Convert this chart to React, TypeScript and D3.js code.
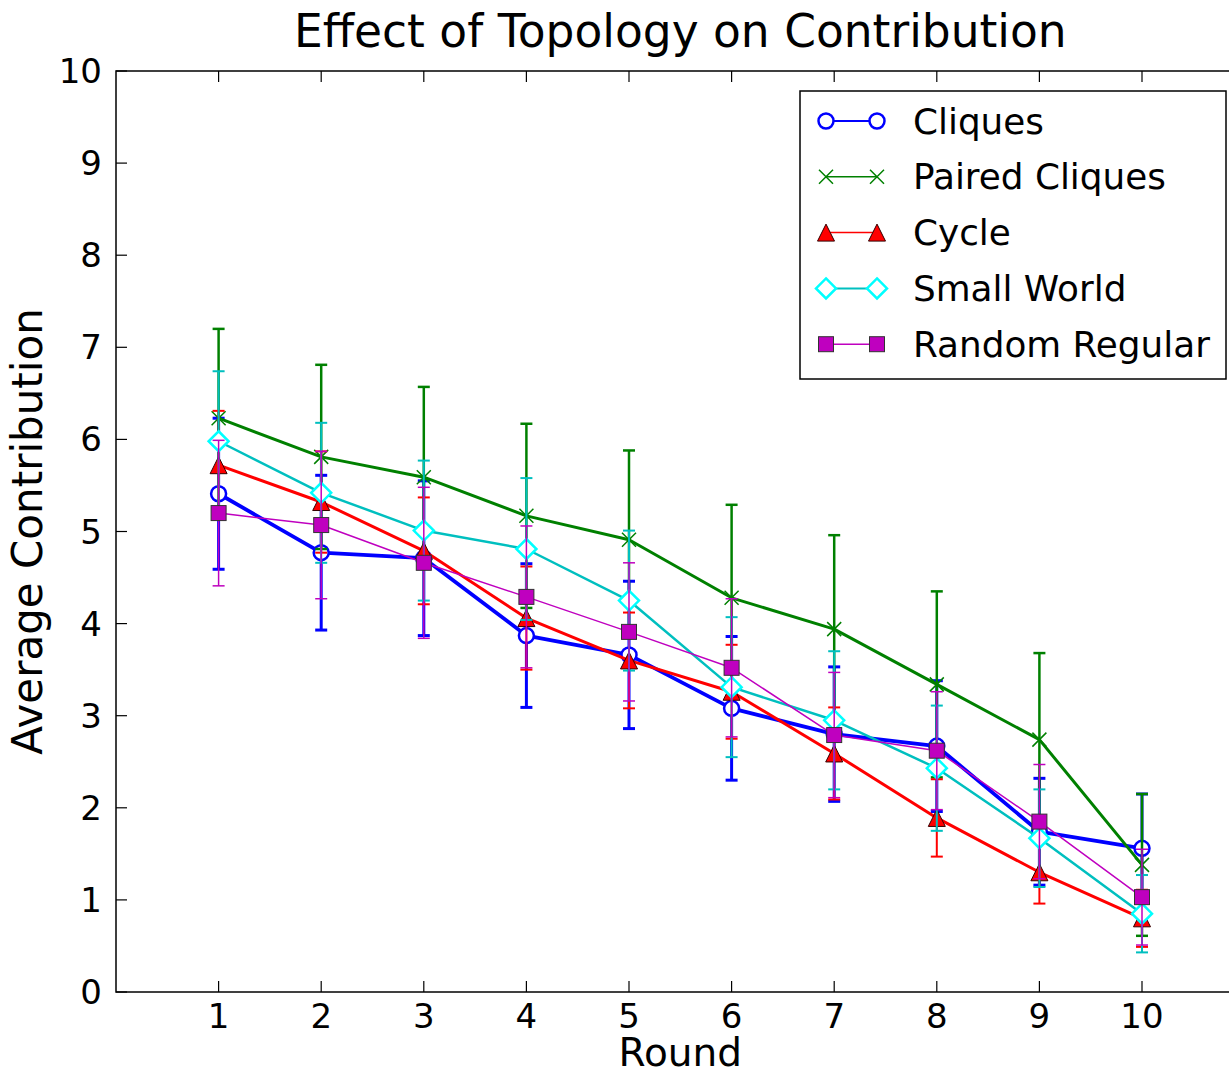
import React from "react";
import * as d3 from "d3";

const rounds = [1, 2, 3, 4, 5, 6, 7, 8, 9, 10];
const yTicks = [0, 1, 2, 3, 4, 5, 6, 7, 8, 9, 10];

const seriesNames = ["Cliques", "Paired Cliques", "Cycle", "Small World", "Random Regular"];

const cliquesMean = [5.41, 4.77, 4.71, 3.87, 3.66, 3.08, 2.80, 2.67, 1.74, 1.56];
const cliquesErr = [0.82, 0.84, 0.84, 0.78, 0.80, 0.78, 0.73, 0.71, 0.58, 0.59];

const pairedMean = [6.23, 5.81, 5.59, 5.17, 4.91, 4.28, 3.94, 3.34, 2.74, 1.38];
const pairedErr = [0.97, 1.0, 0.98, 1.0, 0.97, 1.01, 1.02, 1.01, 0.94, 0.77];

const cycleMean = [5.72, 5.32, 4.79, 4.06, 3.60, 3.26, 2.59, 1.89, 1.30, 0.80];
const cycleErr = [0.59, 0.55, 0.58, 0.56, 0.52, 0.51, 0.50, 0.42, 0.34, 0.31];

const smallWorldMean = [5.98, 5.42, 5.01, 4.81, 4.25, 3.31, 2.95, 2.43, 1.67, 0.85];
const smallWorldErr = [0.76, 0.76, 0.76, 0.77, 0.76, 0.76, 0.75, 0.68, 0.53, 0.42];

const randomRegularMean = [5.20, 5.07, 4.66, 4.29, 3.91, 3.52, 2.79, 2.62, 1.85, 1.03];
const randomRegularErr = [0.79, 0.80, 0.82, 0.77, 0.75, 0.75, 0.68, 0.64, 0.62, 0.52];

type Style = {
  color: string;
  lw: number;
  elw: number;
  legLw: number;
  marker: string;
  mfill: string;
  mstroke: string;
  msw: number;
};

const styles: Style[] = [
  { color: "#0000ff", lw: 3.8, elw: 3, legLw: 2, marker: "circle", mfill: "#ffffff", mstroke: "#0000ff", msw: 2.5 },
  { color: "#008000", lw: 3, elw: 2.5, legLw: 1.5, marker: "x", mfill: "none", mstroke: "#008000", msw: 1.5 },
  { color: "#ff0000", lw: 3, elw: 2, legLw: 1.5, marker: "triangle", mfill: "#ff0000", mstroke: "#330000", msw: 1 },
  { color: "#00bfbf", lw: 2.5, elw: 2, legLw: 2, marker: "diamond", mfill: "#ffffff", mstroke: "#00ffff", msw: 2.5 },
  { color: "#bf00bf", lw: 1.5, elw: 1.5, legLw: 1.5, marker: "square", mfill: "#bf00bf", mstroke: "#333333", msw: 1 },
];

const means = [cliquesMean, pairedMean, cycleMean, smallWorldMean, randomRegularMean];
const errs = [cliquesErr, pairedErr, cycleErr, smallWorldErr, randomRegularErr];

const W = 1229;
const H = 1074;
const left = 116;
const top = 71;
const bottom = 992;
const right = 1244.6;

function Marker({ kind, x, y, s }: { kind: string; x: number; y: number; s: Style }) {
  if (kind === "circle") {
    return <circle cx={x} cy={y} r={7.5} fill={s.mfill} stroke={s.mstroke} strokeWidth={s.msw} />;
  }
  if (kind === "x") {
    const h = 7;
    return (
      <path
        d={`M${x - h},${y - h}L${x + h},${y + h}M${x - h},${y + h}L${x + h},${y - h}`}
        stroke={s.mstroke}
        strokeWidth={s.msw}
        fill="none"
      />
    );
  }
  if (kind === "triangle") {
    const h = 8.5;
    return (
      <path
        d={`M${x},${y - h}L${x + h},${y + h}L${x - h},${y + h}Z`}
        fill={s.mfill}
        stroke={s.mstroke}
        strokeWidth={s.msw}
      />
    );
  }
  if (kind === "diamond") {
    const h = 10;
    return (
      <path
        d={`M${x},${y - h}L${x + h},${y}L${x},${y + h}L${x - h},${y}Z`}
        fill={s.mfill}
        stroke={s.mstroke}
        strokeWidth={s.msw}
      />
    );
  }
  const h = 7.5;
  return <rect x={x - h} y={y - h} width={2 * h} height={2 * h} fill={s.mfill} stroke={s.mstroke} strokeWidth={s.msw} />;
}

export default function App() {
  const x = d3.scaleLinear().domain([0, 11]).range([left, right]);
  const y = d3.scaleLinear().domain([0, 10]).range([bottom, top]);
  const font = "'DejaVu Sans', sans-serif";
  const cap = 6;
  const tickLen = 11;

  const legendX = 800;
  const legendY = 91;
  const legendW = 426;
  const legendH = 288;
  const rowY = (i: number) => 121 + i * 55.8;

  return (
    <svg
      width={W}
      height={H}
      style={{ position: "absolute", left: 0, top: 0, background: "#ffffff" }}
      fontFamily={font}
    >
      <rect x={0} y={0} width={W} height={H} fill="#ffffff" />
      <defs>
        <clipPath id="plotClip">
          <rect x={left} y={top} width={right - left} height={bottom - top} />
        </clipPath>
      </defs>

      <g clipPath="url(#plotClip)">
        {means.map((m, si) => {
          const s = styles[si];
          const e = errs[si];
          const line = d3
            .line<number>()
            .x((_, i) => x(rounds[i]))
            .y((v) => y(v));
          return (
            <g key={si}>
              {m.map((v, i) => {
                const cx = x(rounds[i]);
                const y1 = y(v + e[i]);
                const y2 = y(v - e[i]);
                return (
                  <g key={i} stroke={s.color} strokeWidth={s.elw}>
                    <line x1={cx} x2={cx} y1={y1} y2={y2} />
                    <line x1={cx - cap} x2={cx + cap} y1={y1} y2={y1} />
                    <line x1={cx - cap} x2={cx + cap} y1={y2} y2={y2} />
                  </g>
                );
              })}
              <path d={line(m) || ""} fill="none" stroke={s.color} strokeWidth={s.lw} strokeLinejoin="round" />
              {m.map((v, i) => (
                <Marker key={i} kind={s.marker} x={x(rounds[i])} y={y(v)} s={s} />
              ))}
            </g>
          );
        })}
      </g>

      {/* frame */}
      <rect x={left} y={top} width={right - left} height={bottom - top} fill="none" stroke="#000" strokeWidth={1.5} />

      {/* x ticks */}
      {rounds.map((r) => (
        <g key={r}>
          <line x1={x(r)} x2={x(r)} y1={bottom} y2={bottom - tickLen} stroke="#000" strokeWidth={1.2} />
          <line x1={x(r)} x2={x(r)} y1={top} y2={top + tickLen} stroke="#000" strokeWidth={1.2} />
          <text x={x(r)} y={1028} textAnchor="middle" fontSize={34} fill="#000">
            {r}
          </text>
        </g>
      ))}

      {/* y ticks */}
      {yTicks.map((t) => (
        <g key={t}>
          <line x1={left} x2={left + tickLen} y1={y(t)} y2={y(t)} stroke="#000" strokeWidth={1.2} />
          <line x1={right} x2={right - tickLen} y1={y(t)} y2={y(t)} stroke="#000" strokeWidth={1.2} />
          <text x={102} y={y(t)} textAnchor="end" dominantBaseline="central" fontSize={34} fill="#000">
            {t}
          </text>
        </g>
      ))}

      {/* title and labels */}
      <text x={(left + right) / 2} y={47} textAnchor="middle" fontSize={45.5} fill="#000">
        Effect of Topology on Contribution
      </text>
      <text x={(left + right) / 2} y={1066} textAnchor="middle" fontSize={39} fill="#000">
        Round
      </text>
      <text
        transform={`translate(42,${(top + bottom) / 2}) rotate(-90)`}
        textAnchor="middle"
        fontSize={42}
        fill="#000"
      >
        Average Contribution
      </text>

      {/* legend */}
      <rect x={legendX} y={legendY} width={legendW} height={legendH} fill="#ffffff" stroke="#000" strokeWidth={1.5} />
      {seriesNames.map((name, i) => {
        const s = styles[i];
        const ly = rowY(i);
        return (
          <g key={name}>
            <line x1={826} x2={877} y1={ly} y2={ly} stroke={s.color} strokeWidth={s.legLw} />
            <Marker kind={s.marker} x={826} y={ly} s={s} />
            <Marker kind={s.marker} x={877} y={ly} s={s} />
            <text x={913} y={ly} dominantBaseline="central" fontSize={35.8} fill="#000">
              {name}
            </text>
          </g>
        );
      })}
    </svg>
  );
}
